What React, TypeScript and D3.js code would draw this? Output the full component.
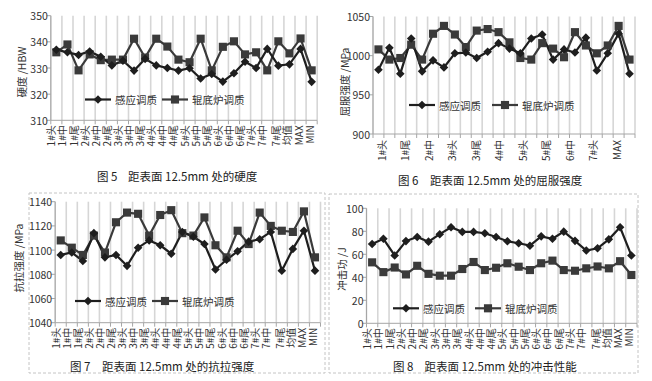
import React from "react";
import * as d3 from "d3";

const categories = ["1#头","1#中","1#尾","2#头","2#中","2#尾","3#头","3#中","3#尾","4#头","4#中","4#尾","5#头","5#中","5#尾","6#头","6#中","6#尾","7#头","7#中","7#尾","均值","MAX","MIN"];
const seriesNames = ["感应调质", "辊底炉调质"];

const hardnessInduction = [337,336,335,336.3,334.3,331,332.8,329,333.5,331,330,329,329.9,326,327.7,324.8,328,332.4,330,337.3,330.9,331.4,337.3,324.7];
const hardnessRoller = [336,339,329.1,335.2,333,333.2,333.2,341.2,334,341.2,338.2,333.2,332.2,341.2,329.1,338.1,340.2,335.2,336,329.1,340.2,335.6,341.3,329.1];

const yieldInduction = [982,1010,977,1022,980,994,985,1003,1004,997,1005,1016,1009,1003,1022,1027,995,1008,1004,1023,981,1003,1028,977];
const yieldRoller = [1008,995,997,1014,995,1028,1038,1027,1011,1032,1034,1030,1017,997,995,1016,1009,998,1030,1013,1003,1013,1038,995];

const tensileInduction = [1096,1098,1091,1114,1094,1096,1087,1102,1108,1104,1097,1115,1111,1105,1084,1092,1099,1107,1109,1115,1083,1101,1116,1083];
const tensileRoller = [1108,1102,1096,1112,1098,1123,1131,1130,1112,1129,1133,1114,1112,1127,1104,1094,1116,1105,1131,1120,1116,1115,1132,1094];

const impactInduction = [69,73.5,59,71.5,75,71,77.5,83.5,79.5,79.5,78.3,75,71.3,69.6,67.5,75.6,73.5,79.7,71.7,63.3,65.2,73,83.5,59];
const impactRoller = [53,44.5,48.5,42.5,50,43,41.4,41.4,47.2,53.3,46.3,48.3,52.2,49.2,46.3,52.2,54.5,46.3,45.7,47.8,49.4,47.8,54,42];

const hardnessTicks = [310, 320, 330, 340, 350];
const yieldTicks = [900, 950, 1000, 1050];
const tensileTicks = [1040, 1060, 1080, 1100, 1120, 1140];
const impactTicks = [0, 20, 40, 60, 80, 100];
const yieldLabels = ["1#头","1#尾","2#中","3#头","3#尾","4#中","5#头","5#尾","6#中","7#头","MAX"];

const FONT = '"Noto Sans CJK SC", "Noto Sans", sans-serif';
const C1 = "#1e1e1e";
const C2 = "#3a3a3a";

const diamondPath = (r: number) => `M0,${-r}L${r},0L0,${r}L${-r},0Z`;
const squareSym = d3.symbol().type(d3.symbolSquare).size(66)();

type Cfg = {
  left: number; right: number; top: number; bottom: number;
  domain: [number, number]; ticks: number[];
  a: number[]; b: number[];
  yTitle: string; yTitleX: number; yTitleY: number;
  legendY: number; legendX1: number; legendX2: number;
  figNo: string; figText: string; figX1: number; figX2: number; figY: number;
  labelMode: "all" | "sparse"; sparseRange?: [number, number];
  border?: [number, number, number, number];
};

function Panel({ c }: { c: Cfg }) {
  const x = d3.scaleBand<string>().domain(categories).range([c.left, c.right]).padding(0);
  const y = d3.scaleLinear().domain(c.domain).range([c.bottom, c.top]);
  const cx = (i: number) => (x(categories[i]) as number) + x.bandwidth() / 2;
  const line = d3.line<number>().x((_, i) => cx(i)).y((d) => y(d));
  const edges = d3.range(categories.length + 1).map((i) => c.left + i * x.step());
  const sparse = d3.scalePoint<string>().domain(yieldLabels).range(c.sparseRange || [0, 0]);

  return (
    <g fontFamily={FONT}>
      {c.border && (
        <rect x={c.border[0]} y={c.border[1]} width={c.border[2] - c.border[0]} height={c.border[3] - c.border[1]}
          fill="none" stroke="#c4c4c4" strokeWidth={1} strokeDasharray="3,2" />
      )}
      {edges.map((ex, i) => (
        <line key={"g" + i} x1={ex} x2={ex} y1={c.top} y2={c.bottom} stroke="#d6d6d6" strokeWidth={1.6} />
      ))}
      {edges.map((ex, i) => (
        <line key={"t" + i} x1={ex} x2={ex} y1={c.bottom} y2={c.bottom + 4} stroke="#a6a6a6" strokeWidth={1} />
      ))}
      <line x1={c.left} x2={c.left} y1={c.top} y2={c.bottom} stroke="#a6a6a6" strokeWidth={1} />
      <line x1={c.left} x2={c.right} y1={c.bottom} y2={c.bottom} stroke="#a6a6a6" strokeWidth={1} />
      {c.ticks.map((t) => (
        <g key={"yt" + t}>
          <line x1={c.left - 4} x2={c.left} y1={y(t)} y2={y(t)} stroke="#a6a6a6" strokeWidth={1} />
          <text x={c.left - 3} y={y(t)} textAnchor="end" dominantBaseline="central" fontSize={10.5} fill="#333">{t}</text>
        </g>
      ))}
      <text transform={`translate(${c.yTitleX},${c.yTitleY}) rotate(-90)`} textAnchor="middle" dominantBaseline="central" fontSize={10.5} fill="#333">{c.yTitle}</text>
      {c.labelMode === "all"
        ? categories.map((cat, i) => (
            <text key={"xl" + i} transform={`translate(${cx(i) + (i < 20 ? -5.5 : -2.5)},${c.bottom + 5}) rotate(-90)`}
              textAnchor="end" dominantBaseline="central" fontSize={10} fill="#333">{cat}</text>
          ))
        : yieldLabels.map((cat) => (
            <text key={"xs" + cat} transform={`translate(${sparse(cat)},${c.bottom + 6}) rotate(-90)`}
              textAnchor="end" dominantBaseline="central" fontSize={10} fill="#333">{cat}</text>
          ))}
      <path d={line(c.b) || ""} fill="none" stroke={C2} strokeWidth={2.2} />
      <path d={line(c.a) || ""} fill="none" stroke={C1} strokeWidth={2.2} />
      {c.b.map((v, i) => (
        <path key={"sb" + i} d={squareSym} transform={`translate(${cx(i)},${y(v)})`} fill={C2} />
      ))}
      {c.a.map((v, i) => (
        <path key={"sa" + i} d={diamondPath(4.3)} transform={`translate(${cx(i)},${y(v)})`} fill={C1} />
      ))}
      <g>
        <line x1={c.legendX1} x2={c.legendX1 + 26} y1={c.legendY} y2={c.legendY} stroke={C1} strokeWidth={2.2} />
        <path d={diamondPath(4.3)} transform={`translate(${c.legendX1 + 13},${c.legendY})`} fill={C1} />
        <text x={c.legendX1 + 30} y={c.legendY} dominantBaseline="central" fontSize={10.5} fill="#333">{seriesNames[0]}</text>
        <line x1={c.legendX2} x2={c.legendX2 + 26} y1={c.legendY} y2={c.legendY} stroke={C2} strokeWidth={2.2} />
        <path d={squareSym} transform={`translate(${c.legendX2 + 13},${c.legendY})`} fill={C2} />
        <text x={c.legendX2 + 30} y={c.legendY} dominantBaseline="central" fontSize={10.5} fill="#333">{seriesNames[1]}</text>
      </g>
      <text x={c.figX1} y={c.figY} dominantBaseline="central" fontSize={11.5} fill="#222">{c.figNo}</text>
      <text x={c.figX2} y={c.figY} dominantBaseline="central" fontSize={11.5} fill="#222">{c.figText}</text>
    </g>
  );
}

const panels: Cfg[] = [
  {
    left: 50.8, right: 317.2, top: 15.7, bottom: 120.3, domain: [310, 350], ticks: hardnessTicks,
    a: hardnessInduction, b: hardnessRoller,
    yTitle: "硬度 /HBW", yTitleX: 21, yTitleY: 72,
    legendY: 99.5, legendX1: 85, legendX2: 162,
    figNo: "图 5", figText: "距表面 12.5mm 处的硬度", figX1: 97, figX2: 128, figY: 176,
    labelMode: "all",
  },
  {
    left: 373, right: 635, top: 16.5, bottom: 134, domain: [900, 1050], ticks: yieldTicks,
    a: yieldInduction, b: yieldRoller,
    yTitle: "屈服强度 /MPa", yTitleX: 344, yTitleY: 82,
    legendY: 105, legendX1: 409, legendX2: 492,
    figNo: "图 6", figText: "距表面 12.5mm 处的屈服强度", figX1: 398, figX2: 430, figY: 180,
    labelMode: "sparse", sparseRange: [381, 616],
  },
  {
    left: 55.2, right: 320.5, top: 201.7, bottom: 322.7, domain: [1040, 1140], ticks: tensileTicks,
    a: tensileInduction, b: tensileRoller,
    yTitle: "抗拉强度 /MPa", yTitleX: 18.5, yTitleY: 258,
    legendY: 301, legendX1: 75, legendX2: 152,
    figNo: "图 7", figText: "距表面 12.5mm 处的抗拉强度", figX1: 70, figX2: 102, figY: 365.7,
    labelMode: "all", border: [29, 193, 325, 373],
  },
  {
    left: 366.5, right: 637, top: 208.3, bottom: 323.3, domain: [0, 100], ticks: impactTicks,
    a: impactInduction, b: impactRoller,
    yTitle: "冲击功 /J", yTitleX: 341, yTitleY: 269,
    legendY: 308.3, legendX1: 393, legendX2: 475,
    figNo: "图 8", figText: "距表面 12.5mm 处的冲击性能", figX1: 393, figX2: 424.5, figY: 365.7,
    labelMode: "all", border: [329, 194, 638, 373],
  },
];

export default function App() {
  return (
    <svg width={652} height={381} viewBox="0 0 652 381"
      style={{ position: "fixed", left: 0, top: 0, background: "#fff", display: "block" }}>
      <rect x={0} y={0} width={652} height={381} fill="#fff" />
      {panels.map((p, i) => <Panel key={i} c={p} />)}
    </svg>
  );
}
